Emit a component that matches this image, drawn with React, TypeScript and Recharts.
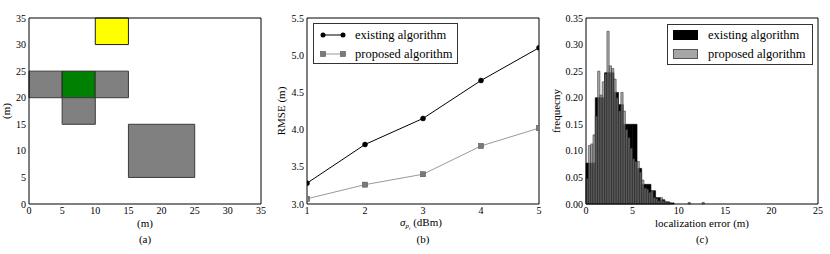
import React from 'react';
import { ComposedChart, LineChart, Line, XAxis, YAxis, ReferenceArea, Legend } from 'recharts';

// ---------- data ----------
// panel (a): map of rooms
const mapTicks = [0, 5, 10, 15, 20, 25, 30, 35];
const roomX1 = [10, 0, 5, 10, 5, 15];
const roomX2 = [15, 5, 10, 15, 10, 25];
const roomY1 = [30, 20, 20, 20, 15, 5];
const roomY2 = [35, 25, 25, 25, 20, 15];
const roomColor = ['#ffff00', '#808080', '#008000', '#808080', '#808080', '#808080'];

// panel (b): RMSE vs sigma
const seriesNames = ['existing algorithm', 'proposed algorithm'];
const sigmaValues = [1, 2, 3, 4, 5];
const existingRmse = [3.28, 3.8, 4.15, 4.66, 5.1];
const proposedRmse = [3.07, 3.26, 3.4, 3.78, 4.02];
const rmseTicks = [3.0, 3.5, 4.0, 4.5, 5.0, 5.5];

// panel (c): localization error histogram
const errorTicks = [0, 5, 10, 15, 20, 25];
const freqTicks = [0, 0.05, 0.1, 0.15, 0.2, 0.25, 0.3, 0.35];
const existingBinWidth = 0.5;
const existingFreq = [
  0.077, 0.077, 0.2, 0.2, 0.247, 0.247, 0.21, 0.187, 0.15, 0.15, 0.15, 0.067,
  0.037, 0.037, 0.025, 0.012, 0.008, 0.004, 0.002,
];
const proposedBinWidth = 0.25;
const proposedFreq = [
  0.048, 0.11, 0.113, 0.13, 0.165, 0.25, 0.205, 0.23, 0.245, 0.325, 0.26, 0.255,
  0.235, 0.2, 0.175, 0.21, 0.175, 0.14, 0.125, 0.105, 0.085, 0.08, 0.08, 0.06,
  0.045, 0.03, 0.028, 0.022, 0.025, 0.012, 0.01, 0.006, 0.012, 0.006, 0.004, 0.003,
  0.002, 0, 0, 0, 0, 0, 0, 0, 0.003, 0, 0, 0, 0, 0, 0.003, 0,
];

// ---------- styles ----------
const FONT = '"Liberation Serif", "DejaVu Serif", serif';
const TICK = { fill: '#000', fontSize: 10, fontFamily: FONT };
const BLACK = { stroke: '#000', strokeWidth: 1 };

function frameAxes(xKey: string, xDomain: number[], xTicks: number[], yDomain: number[], yTicks: number[]) {
  return [
    <XAxis key="xb" xAxisId="xb" dataKey={xKey} type="number" orientation="bottom" mirror domain={xDomain} ticks={xTicks}
      allowDataOverflow interval={0} tick={false} tickLine={BLACK} tickSize={4} axisLine={false} />,
    <XAxis key="xt" xAxisId="xt" dataKey={xKey} type="number" orientation="top" mirror domain={xDomain} ticks={xTicks}
      allowDataOverflow interval={0} tick={false} tickLine={BLACK} tickSize={4} axisLine={BLACK} />,
    <YAxis key="yl" yAxisId="yl" type="number" orientation="left" mirror domain={yDomain} ticks={yTicks}
      allowDataOverflow interval={0} tick={false} tickLine={BLACK} tickSize={4} axisLine={false} />,
    <YAxis key="yr" yAxisId="yr" type="number" orientation="right" mirror domain={yDomain} ticks={yTicks}
      allowDataOverflow interval={0} tick={false} tickLine={BLACK} tickSize={4} axisLine={BLACK} />,
  ];
}

const textAt = (cx: number, cy: number, content: React.ReactNode, rotate = false, size = 11) => (
  <div
    style={{
      position: 'absolute', left: cx, top: cy, whiteSpace: 'nowrap', lineHeight: 1,
      fontFamily: FONT, fontSize: size, color: '#000',
      transform: `translate(-50%, -50%)${rotate ? ' rotate(-90deg)' : ''}`,
    }}
  >
    {content}
  </div>
);

const SquareDot = (props: any) => {
  const { cx, cy } = props;
  if (cx == null || cy == null) return null;
  return <rect key={props.key} x={cx - 2.5} y={cy - 2.5} width={5} height={5} fill="#7a7a7a" stroke="#555" strokeWidth={0.6} />;
};

const LineLegendBox = () => (
  <div style={{ position: 'relative', width: 145, height: 41, boxSizing: 'border-box', border: '1px solid #333', background: '#fff', fontFamily: FONT, fontSize: 12.5 }}>
    {seriesNames.map((name, i) => (
      <div key={name} style={{ position: 'absolute', left: 0, top: 1 + i * 19, height: 20, width: 143 }}>
        <svg width={30} height={20} style={{ position: 'absolute', left: 5, top: 0 }}>
          <line x1={4} y1={10} x2={24} y2={10} stroke={i === 0 ? '#000' : '#999'} strokeWidth={1} />
          {i === 0 ? (
            <>
              <circle cx={4} cy={10} r={2.5} fill="#000" />
              <circle cx={24} cy={10} r={2.5} fill="#000" />
            </>
          ) : (
            <>
              <rect x={1.5} y={7.5} width={5} height={5} fill="#7a7a7a" stroke="#555" strokeWidth={0.6} />
              <rect x={21.5} y={7.5} width={5} height={5} fill="#7a7a7a" stroke="#555" strokeWidth={0.6} />
            </>
          )}
        </svg>
        <span style={{ position: 'absolute', left: 41, top: 3, lineHeight: '14px' }}>{name}</span>
      </div>
    ))}
  </div>
);

const BarLegendBox = () => (
  <div style={{ position: 'relative', width: 146, height: 41, boxSizing: 'border-box', border: '1px solid #333', background: '#fff', fontFamily: FONT, fontSize: 12.5 }}>
    {seriesNames.map((name, i) => (
      <div key={name} style={{ position: 'absolute', left: 0, top: 1 + i * 19, height: 20, width: 144 }}>
        <div style={{ position: 'absolute', left: 5, top: 4, width: 25, height: 10, boxSizing: 'border-box',
          background: i === 0 ? '#000' : '#a6a6a6', border: `1px solid ${i === 0 ? '#000' : '#555'}` }} />
        <span style={{ position: 'absolute', left: 40, top: 2, lineHeight: '14px' }}>{name}</span>
      </div>
    ))}
  </div>
);

export default function App() {
  const lineData = sigmaValues.map((s, i) => ({ sigma: s, existing: existingRmse[i], proposed: proposedRmse[i] }));
  const rooms = roomX1.map((x1, i) => ({ x1, x2: roomX2[i], y1: roomY1[i], y2: roomY2[i], color: roomColor[i] }));
  const existingBins = existingFreq.map((f, i) => ({ x1: i * existingBinWidth, x2: (i + 1) * existingBinWidth, f }));
  const proposedBins = proposedFreq.map((f, i) => ({ x1: i * proposedBinWidth, x2: (i + 1) * proposedBinWidth, f }));

  return (
    <div style={{ position: 'absolute', left: 0, top: 0, width: 830, height: 254, background: '#fff', overflow: 'hidden' }}>
      {/* (a) */}
      <div style={{ position: 'absolute', left: 0, top: 0 }}>
        <ComposedChart width={270} height={254} data={rooms} margin={{ top: 18, right: 9, bottom: 30, left: 7 }}>
          <XAxis dataKey="x1" type="number" domain={[0, 35]} ticks={mapTicks} allowDataOverflow interval={0}
            tickLine={false} tickSize={2} tickMargin={1} axisLine={BLACK} tick={TICK} height={20} />
          <YAxis type="number" domain={[0, 35]} ticks={mapTicks} allowDataOverflow interval={0}
            tickLine={false} tickSize={2} tickMargin={1} axisLine={BLACK} tick={TICK} width={22} />
          {frameAxes('x1', [0, 35], mapTicks, [0, 35], mapTicks)}
          {rooms.map((r, i) => (
            <ReferenceArea key={i} x1={r.x1} x2={r.x2} y1={r.y1} y2={r.y2} fill={r.color} fillOpacity={1}
              stroke={r.color === '#808080' ? '#3a3a3a' : '#222'} strokeWidth={1} ifOverflow="visible" />
          ))}
        </ComposedChart>
      </div>

      {/* (b) */}
      <div style={{ position: 'absolute', left: 270, top: 0 }}>
        <LineChart width={280} height={254} data={lineData} margin={{ top: 18, right: 11, bottom: 30, left: 13 }}>
          <XAxis type="number" dataKey="sigma" domain={[1, 5]} ticks={sigmaValues} allowDataOverflow interval={0}
            tickLine={false} tickSize={2} tickMargin={1} axisLine={BLACK} tick={TICK} height={20} />
          <YAxis type="number" domain={[3, 5.5]} ticks={rmseTicks} allowDataOverflow interval={0}
            tickLine={false} tickSize={2} tickMargin={1} axisLine={BLACK} tick={TICK} width={24}
            tickFormatter={(v: number) => v.toFixed(1)} />
          {frameAxes('sigma', [1, 5], sigmaValues, [3, 5.5], rmseTicks)}
          <Line dataKey="existing" name={seriesNames[0]} stroke="#000" strokeWidth={1} isAnimationActive={false}
            dot={{ r: 2.5, fill: '#000', stroke: '#000', strokeWidth: 0.5 }} />
          <Line dataKey="proposed" name={seriesNames[1]} stroke="#999" strokeWidth={1} isAnimationActive={false}
            dot={SquareDot} />
          <Legend layout="horizontal" verticalAlign="middle" align="center"
            wrapperStyle={{ left: 43, top: 23, width: 145, height: 41 }} content={() => <LineLegendBox />} />
        </LineChart>
      </div>

      {/* (c) */}
      <div style={{ position: 'absolute', left: 550, top: 0 }}>
        <ComposedChart width={280} height={254} data={proposedBins} margin={{ top: 18, right: 12, bottom: 30, left: 10 }}>
          <XAxis dataKey="x1" type="number" domain={[0, 25]} ticks={errorTicks} allowDataOverflow interval={0}
            tickLine={false} tickSize={2} tickMargin={1} axisLine={BLACK} tick={TICK} height={20} />
          <YAxis type="number" domain={[0, 0.35]} ticks={freqTicks} allowDataOverflow interval={0}
            tickLine={false} tickSize={2} tickMargin={1} axisLine={BLACK} tick={TICK} width={26}
            tickFormatter={(v: number) => v.toFixed(2)} />
          {frameAxes('x1', [0, 25], errorTicks, [0, 0.35], freqTicks)}
          {existingBins.filter((b) => b.f > 0).map((b, i) => (
            <ReferenceArea key={`e${i}`} x1={b.x1} x2={b.x2} y1={0} y2={b.f} fill="#000" fillOpacity={1}
              stroke="#000" strokeWidth={0.6} ifOverflow="visible" />
          ))}
          {proposedBins.filter((b) => b.f > 0).map((b, i) => (
            <ReferenceArea key={`p${i}`} x1={b.x1} x2={b.x2} y1={0} y2={b.f} fill="#808080" fillOpacity={0.7}
              stroke="#222" strokeOpacity={0.8} strokeWidth={0.6} ifOverflow="visible" />
          ))}
          <Legend layout="horizontal" verticalAlign="middle" align="center"
            wrapperStyle={{ left: 117, top: 24, width: 146, height: 41 }} content={() => <BarLegendBox />} />
        </ComposedChart>
      </div>

      {/* axis titles & captions */}
      {textAt(6, 111, '(m)', true)}
      {textAt(145, 223, '(m)')}
      {textAt(145, 239, '(a)')}

      {textAt(281, 111, 'RMSE (m)', true)}
      {textAt(421, 223, (
        <span><i>σ</i><sub style={{ fontSize: 7, verticalAlign: '-2px', lineHeight: 0 }}><i>p</i><sub style={{ fontSize: 5, lineHeight: 0 }}><i>i</i></sub></sub> (dBm)</span>
      ))}
      {textAt(423, 239, '(b)')}

      {textAt(556, 111, 'frequecny', true)}
      {textAt(702, 223, 'localization error (m)')}
      {textAt(702, 239, '(c)')}
    </div>
  );
}
